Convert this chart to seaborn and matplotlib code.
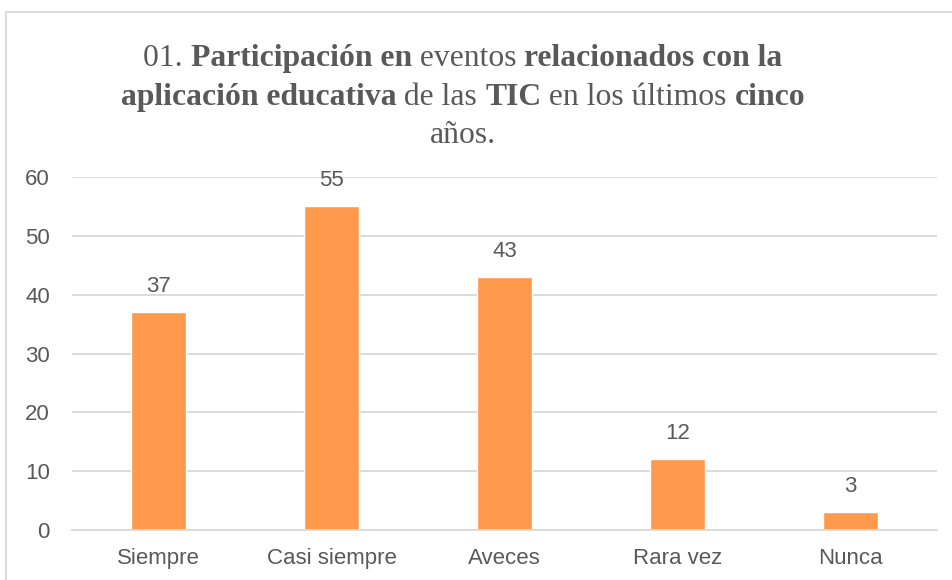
import matplotlib
matplotlib.use("Agg")
import matplotlib.pyplot as plt
import seaborn as sns
import pandas as pd
from matplotlib.patches import Rectangle

categories = ["Siempre", "Casi siempre", "Aveces", "Rara vez", "Nunca"]
values = [37, 55, 43, 12, 3]
yticks = [0, 10, 20, 30, 40, 50, 60]

title_lines = [
    [("01. ", "normal"), ("Participación en", "bold"), (" eventos ", "normal"), ("relacionados con la", "bold")],
    [("aplicación educativa", "bold"), (" de las ", "normal"), ("TIC", "bold"), (" en los últimos ", "normal"), ("cinco", "bold")],
    [("años.", "normal")],
]

sns.set_theme(style="white")
plt.rcParams["font.family"] = ["Liberation Sans", "DejaVu Sans"]

W, H = 952, 580
fig = plt.figure(figsize=(W / 100, H / 100), dpi=100)
ax = fig.add_axes([72 / W, 1 - 530 / H, (937 - 72) / W, (530 - 177) / H])

df = pd.DataFrame({"cat": categories, "val": values})
sns.barplot(data=df, x="cat", y="val", color="#FF9A4C", saturation=1, width=0.32, ax=ax)

ax.set_ylim(0, 60)
ax.set_yticks(yticks)
ax.set_xlim(-0.5, len(categories) - 0.5)
ax.yaxis.grid(True, color="#D9D9D9", linewidth=1.3)
ax.set_axisbelow(True)
for s in ["top", "right", "left"]:
    ax.spines[s].set_visible(False)
ax.spines["bottom"].set_color("#D9D9D9")
ax.spines["bottom"].set_linewidth(1.3)
ax.set_xlabel("")
ax.set_ylabel("")
ax.tick_params(axis="both", length=0, labelsize=16, labelcolor="#595959")
ax.tick_params(axis="y", pad=16)
ax.tick_params(axis="x", pad=13)

for i, v in enumerate(values):
    ax.annotate(str(v), (i, v), xytext=(0, 11), textcoords="offset points",
                ha="center", va="bottom", fontsize=16, color="#595959")

# chart border
fig.patches.append(Rectangle((6 / W, -0.05), 1.1, 1 - 12 / H + 0.05, transform=fig.transFigure,
                             fill=False, edgecolor="#D9D9D9", linewidth=1.3))

# title with mixed weights
fig.canvas.draw()
renderer = fig.canvas.get_renderer()
center_x = 463
baselines = [66, 105, 143]
fs = 22.8
for line, base in zip(title_lines, baselines):
    texts = []
    for s, w in line:
        t = fig.text(0, 1 - base / H, s, fontsize=fs, fontweight=w, family="Liberation Serif",
                     color="#595959", va="baseline", ha="left")
        texts.append(t)
    widths = [t.get_window_extent(renderer).width for t in texts]
    total = sum(widths)
    x = center_x - total / 2
    for t, w_ in zip(texts, widths):
        t.set_x(x / W)
        x += w_

fig.savefig("out.png", dpi=100)
